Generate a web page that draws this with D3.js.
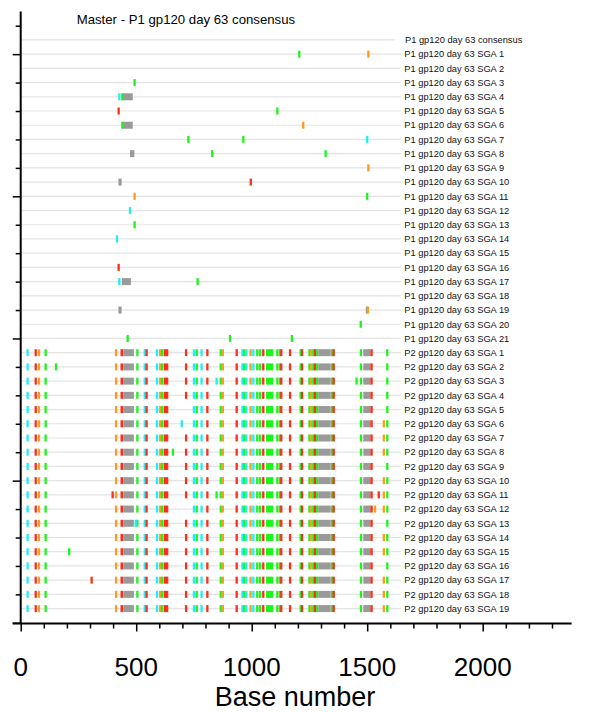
<!DOCTYPE html>
<html>
<head>
<meta charset="utf-8">
<script src="https://cdn.jsdelivr.net/npm/d3@7"></script>
<style>
  html, body { margin: 0; padding: 0; background: #fff; }
  svg { display: block; font-family: "Liberation Sans", Arial, Helvetica, sans-serif; }
</style>
</head>
<body>
<svg id="chart" width="600" height="712"></svg>
<script>
// ---------- DATA ----------
const title = "Master - P1 gp120 day 63 consensus";
const xAxisTitle = "Base number";
const xTickLabels = [0, 500, 1000, 1500, 2000];

const rowLabels = [
  "P1 gp120 day 63 consensus",
  "P1 gp120 day 63 SGA 1", "P1 gp120 day 63 SGA 2", "P1 gp120 day 63 SGA 3",
  "P1 gp120 day 63 SGA 4", "P1 gp120 day 63 SGA 5", "P1 gp120 day 63 SGA 6",
  "P1 gp120 day 63 SGA 7", "P1 gp120 day 63 SGA 8", "P1 gp120 day 63 SGA 9",
  "P1 gp120 day 63 SGA 10", "P1 gp120 day 63 SGA 11", "P1 gp120 day 63 SGA 12",
  "P1 gp120 day 63 SGA 13", "P1 gp120 day 63 SGA 14", "P1 gp120 day 63 SGA 15",
  "P1 gp120 day 63 SGA 16", "P1 gp120 day 63 SGA 17", "P1 gp120 day 63 SGA 18",
  "P1 gp120 day 63 SGA 19", "P1 gp120 day 63 SGA 20", "P1 gp120 day 63 SGA 21",
  "P2 gp120 day 63 SGA 1", "P2 gp120 day 63 SGA 2", "P2 gp120 day 63 SGA 3",
  "P2 gp120 day 63 SGA 4", "P2 gp120 day 63 SGA 5", "P2 gp120 day 63 SGA 6",
  "P2 gp120 day 63 SGA 7", "P2 gp120 day 63 SGA 8", "P2 gp120 day 63 SGA 9",
  "P2 gp120 day 63 SGA 10", "P2 gp120 day 63 SGA 11", "P2 gp120 day 63 SGA 12",
  "P2 gp120 day 63 SGA 13", "P2 gp120 day 63 SGA 14", "P2 gp120 day 63 SGA 15",
  "P2 gp120 day 63 SGA 16", "P2 gp120 day 63 SGA 17", "P2 gp120 day 63 SGA 18",
  "P2 gp120 day 63 SGA 19"
];

const baseCodes = ["A", "C", "G", "T", "-"];

// P1 mismatches: [row, start, end, base]
const p1Marks = [
  [1, 1206, 1206, "A"], [1, 1505, 1505, "G"],
  [3, 493, 493, "A"],
  [4, 427, 427, "C"], [4, 440, 440, "A"], [4, 443, 485, "-"],
  [5, 424, 424, "T"], [5, 1111, 1111, "A"],
  [6, 440, 440, "A"], [6, 443, 485, "-"], [6, 1223, 1223, "G"],
  [7, 726, 726, "A"], [7, 964, 964, "A"], [7, 1500, 1500, "C"],
  [8, 473, 492, "-"], [8, 829, 829, "A"], [8, 1320, 1320, "A"],
  [9, 1505, 1505, "G"],
  [10, 423, 437, "-"], [10, 996, 996, "T"],
  [11, 493, 493, "G"], [11, 1500, 1500, "A"],
  [12, 473, 473, "C"],
  [13, 493, 493, "A"],
  [14, 417, 417, "C"],
  [16, 424, 424, "T"],
  [17, 427, 427, "C"], [17, 438, 477, "-"], [17, 766, 766, "A"],
  [19, 423, 437, "-"], [19, 1494, 1500, "-"], [19, 1503, 1503, "G"],
  [20, 1472, 1472, "A"],
  [21, 463, 463, "A"], [21, 906, 906, "A"], [21, 1174, 1174, "A"]
];

// Mismatches shared by all P2 sequences: [start, end, base]
const p2Shared = [
  [30, 30, "C"], [65, 65, "T"], [79, 79, "G"], [108, 108, "A"],
  [413, 413, "G"], [432, 443, "T"], [444, 490, "-"], [505, 505, "A"],
  [537, 537, "C"], [545, 545, "T"], [590, 590, "C"], [604, 604, "G"],
  [612, 612, "A"], [619, 639, "T"],
  [750, 750, "C"], [762, 762, "A"], [783, 783, "C"], [808, 808, "T"],
  [866, 866, "A"], [875, 875, "G"],
  [935, 935, "T"], [955, 964, "C"], [968, 968, "A"], [972, 981, "C"],
  [990, 1000, "G"], [1007, 1007, "C"], [1024, 1024, "A"], [1036, 1036, "A"],
  [1050, 1050, "T"], [1062, 1094, "A"], [1111, 1111, "A"], [1122, 1122, "A"],
  [1128, 1128, "T"], [1166, 1166, "T"],
  [1212, 1212, "A"], [1218, 1218, "T"], [1245, 1252, "A"], [1258, 1258, "G"],
  [1262, 1270, "A"], [1274, 1274, "T"], [1278, 1287, "A"], [1288, 1342, "-"],
  [1348, 1348, "A"], [1355, 1355, "T"],
  [1473, 1473, "A"], [1483, 1515, "-"], [1519, 1519, "T"], [1587, 1587, "A"]
];

// P2 SGA numbers carrying the T at 716
const p2WithT716 = [1, 2, 3, 4, 7, 8, 9, 10, 11, 13, 14, 15, 16, 17, 18, 19];
// P2 SGA numbers carrying the G at 1572
const p2WithG1572 = [6, 7, 8, 10, 11, 12, 14, 15, 17, 18, 19];

// Other P2 sequence-specific mismatches: [sga, start, end, base]
const p2Extra = [
  [2, 153, 153, "A"],
  [3, 848, 848, "C"], [3, 1454, 1454, "A"],
  [6, 697, 697, "C"],
  [8, 659, 659, "A"],
  [11, 398, 398, "T"], [11, 848, 848, "A"], [11, 1550, 1550, "T"],
  [12, 1534, 1534, "G"],
  [13, 493, 500, "C"],
  [15, 210, 210, "A"],
  [17, 307, 307, "T"]
];

// ---------- BUILD ----------
const P2_FIRST_ROW = 22;
const marks = [];
p1Marks.forEach(([r, s, e, b]) => marks.push({ row: r, s, e, b }));
for (let k = 1; k <= 19; k++) {
  const row = P2_FIRST_ROW + k - 1;
  p2Shared.forEach(([s, e, b]) => marks.push({ row, s, e, b }));
  if (p2WithT716.includes(k)) marks.push({ row, s: 716, e: 716, b: "T" });
  if (p2WithG1572.includes(k)) marks.push({ row, s: 1572, e: 1572, b: "G" });
}
p2Extra.forEach(([k, s, e, b]) => marks.push({ row: P2_FIRST_ROW + k - 1, s, e, b }));

// ---------- SCALES ----------
const svg = d3.select("#chart");
const x = d3.scaleLinear().domain([0, 2000]).range([20.7, 482.7]);
const y = d3.scaleLinear().domain([-2, 41]).range([11.5, 622.8]);
const color = d3.scaleOrdinal()
  .domain(baseCodes)
  .range(["#1cf51c", "#22eef5", "#ff9a1e", "#ff2e1a", "#9a9a9a"]);

// Gridlines
svg.append("g").selectAll("line").data(rowLabels).join("line")
  .attr("x1", x(0)).attr("x2", (d, i) => i === 0 ? 395 : 401)
  .attr("y1", (d, i) => y(i)).attr("y2", (d, i) => y(i))
  .attr("stroke", "#e3e3e3").attr("stroke-width", 1.2);

// Row labels
svg.append("g").selectAll("text").data(rowLabels).join("text")
  .attr("x", (d, i) => i === 0 ? 405 : 404.3)
  .attr("y", (d, i) => y(i))
  .attr("dy", "0.35em")
  .attr("font-size", 9.3)
  .attr("fill", "#111")
  .text(d => d);

// Marks
const MARK_H = 7, MIN_W = 2.3;
svg.append("g").selectAll("rect").data(marks).join("rect")
  .attr("x", d => d.e > d.s ? x(d.s) : x(d.s) - MIN_W / 2)
  .attr("width", d => d.e > d.s ? Math.max(MIN_W, x(d.e) - x(d.s)) : MIN_W)
  .attr("y", d => y(d.row) - MARK_H / 2)
  .attr("height", MARK_H)
  .attr("fill", d => color(d.b));

// Y axis
const yTicks = d3.range(-1, 42, 2);
const yAxis = d3.axisLeft(y).tickValues(yTicks).tickFormat("").tickSizeOuter(0)
  .tickSize(5);
const gy = svg.append("g").attr("transform", `translate(${x(0)},0)`).call(yAxis);
gy.select(".domain").remove();
gy.selectAll(".tick line")
  .attr("x2", d => ((d - 1) % 10 === 0) ? -8 : -5)
  .attr("stroke", "#000").attr("stroke-width", 1.5);
svg.append("line")
  .attr("x1", x(0)).attr("x2", x(0)).attr("y1", y(-2)).attr("y2", y(41.05))
  .attr("stroke", "#000").attr("stroke-width", 2);

// X axis
const xMinor = d3.range(0, 2301, 100);
const xAxis = d3.axisBottom(x).tickValues(xMinor).tickFormat("").tickSizeOuter(0).tickSize(5);
const gx = svg.append("g").attr("transform", `translate(0,${y(41.05)})`).call(xAxis);
gx.select(".domain").remove();
gx.selectAll(".tick line")
  .attr("y2", d => d % 500 === 0 ? 8 : 5)
  .attr("stroke", "#000").attr("stroke-width", 1.5);
svg.append("line")
  .attr("x1", x(0) - 8).attr("x2", x(2385)).attr("y1", y(41.05)).attr("y2", y(41.05))
  .attr("stroke", "#000").attr("stroke-width", 2);

// X tick labels
svg.append("g").selectAll("text").data(xTickLabels).join("text")
  .attr("x", d => x(d)).attr("y", 676)
  .attr("text-anchor", "middle")
  .attr("font-size", 26)
  .attr("fill", "#000")
  .text(d => d);

// Axis title
svg.append("text")
  .attr("x", 295).attr("y", 706)
  .attr("text-anchor", "middle")
  .attr("font-size", 27)
  .attr("fill", "#000")
  .text(xAxisTitle);

// Chart title
svg.append("text")
  .attr("x", 76.7).attr("y", 24)
  .attr("font-size", 13.2)
  .attr("fill", "#000")
  .text(title);
</script>
</body>
</html>
